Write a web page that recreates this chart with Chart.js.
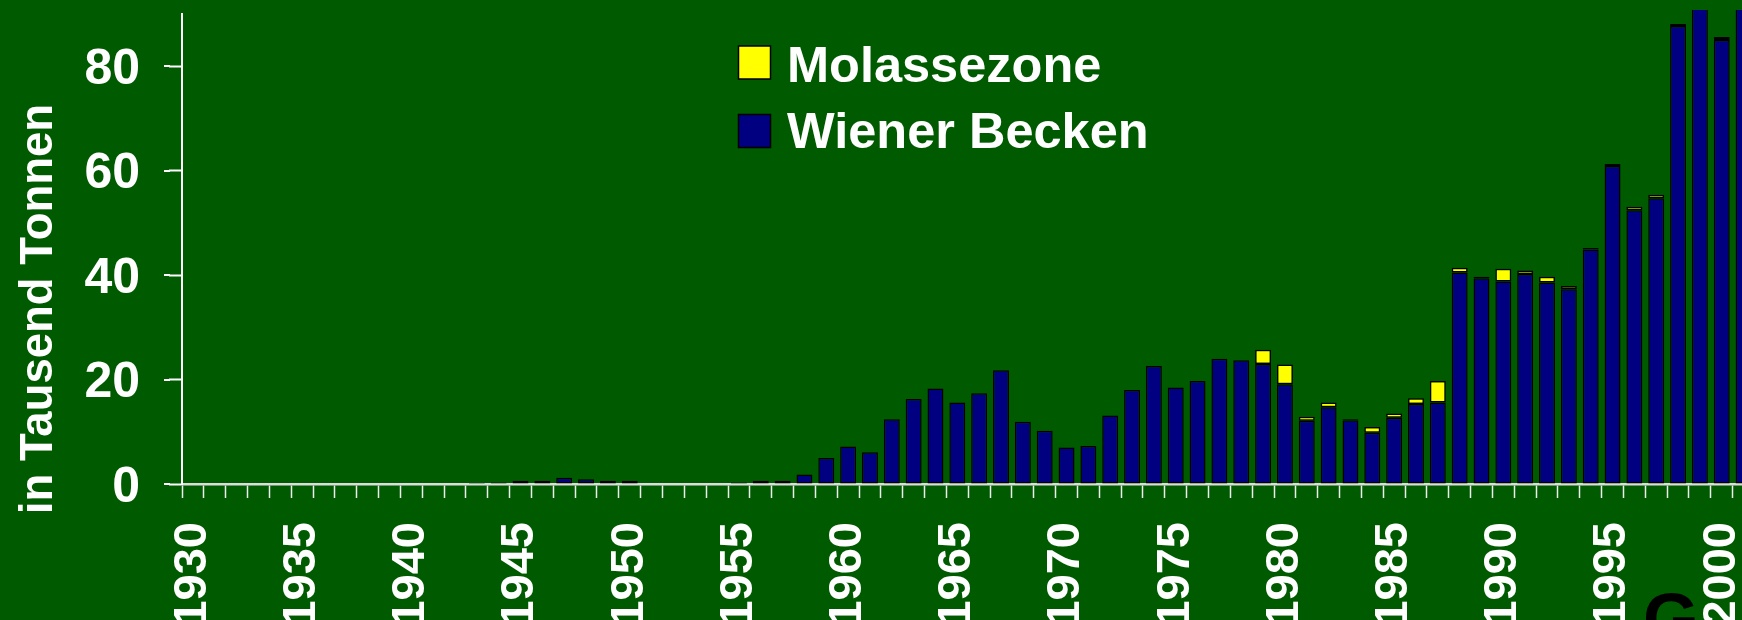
<!DOCTYPE html>
<html><head><meta charset="utf-8">
<script src="https://cdn.jsdelivr.net/npm/chart.js@4.4.0/dist/chart.umd.min.js"></script>
<style>
html,body{margin:0;padding:0;background:#005a00;overflow:hidden;width:1742px;height:620px;}
#wrap{position:absolute;left:0;top:0;width:1760px;height:650px;}
canvas{display:block;}
</style></head><body>
<div id="wrap"><canvas id="c" width="1760" height="650"></canvas></div>
<script>
const years = ['1930','1931','1932','1933','1934','1935','1936','1937','1938','1939',
  '1940','1941','1942','1943','1944','1945','1946','1947','1948','1949',
  '1950','1951','1952','1953','1954','1955','1956','1957','1958','1959',
  '1960','1961','1962','1963','1964','1965','1966','1967','1968','1969',
  '1970','1971','1972','1973','1974','1975','1976','1977','1978','1979',
  '1980','1981','1982','1983','1984','1985','1986','1987','1988','1989',
  '1990','1991','1992','1993','1994','1995','1996','1997','1998','1999',
  '2000','2001'];
const wienerBecken = [0,0,0,0,0,0,0,0,0,0,
  0,0,0,0.2,0.3,0.6,0.6,1.2,0.9,0.6,
  0.6,0,0,0,0,0.3,0.6,0.6,1.8,5.0,
  7.2,6.1,12.4,16.3,18.3,15.6,17.4,21.8,11.9,10.2,
  7.0,7.3,13.1,18.0,22.6,18.5,19.7,24.0,23.7,23.0,
  19.1,12.1,14.7,12.2,9.8,12.7,15.3,15.6,40.5,39.4,
  38.8,40.2,38.6,37.3,44.9,60.9,52.4,54.7,87.7,95.0,
  85.0,95.0];
const molassezone = [0,0,0,0,0,0,0,0,0,0,
  0,0,0,0,0,0,0,0,0,0,
  0,0,0,0,0,0,0,0,0,0,
  0,0,0,0,0,0,0,0,0,0,
  0,0,0,0,0,0,0,0,0,2.7,
  3.8,0.8,0.9,0.2,1.1,0.8,1.1,4.1,0.9,0.3,
  2.4,0.7,1.1,0.6,0.3,0.4,0.7,0.7,0.4,0.5,
  0.6,0.5];
const yMajorTicks = [0,20,40,60,80];
const yTitle = 'in Tausend Tonnen';

const FONT = "'Liberation Sans', Arial, sans-serif";

const extras = {
  id: 'extras',
  afterDraw(chart) {
    const ctx = chart.ctx;
    const ys = chart.scales.y;
    const left = chart.chartArea.left;
    ctx.save();
    // longer major ticks
    ctx.strokeStyle = '#ffffff';
    ctx.lineWidth = 2;
    yMajorTicks.forEach(v => {
      const py = Math.round(ys.getPixelForValue(v));
      ctx.beginPath();
      ctx.moveTo(left - 18, py);
      ctx.lineTo(left - 12, py);
      ctx.stroke();
    });
    // y axis title
    ctx.fillStyle = '#ffffff';
    ctx.font = 'bold 45.5px ' + FONT;
    ctx.translate(51.5, 309);
    ctx.rotate(-Math.PI / 2);
    ctx.textAlign = 'center';
    ctx.textBaseline = 'alphabetic';
    ctx.fillText(yTitle, 0, 0);
    ctx.restore();

    // legend (top dataset first)
    ctx.save();
    const ds = chart.data.datasets.slice().reverse();
    ds.forEach((d, i) => {
      const bx = 738.5, by = 46 + i * 68.5;
      ctx.fillStyle = d.backgroundColor;
      ctx.fillRect(bx, by, 32, 33);
      ctx.strokeStyle = '#000000';
      ctx.lineWidth = 1.5;
      ctx.strokeRect(bx, by, 32, 33);
      ctx.fillStyle = '#ffffff';
      ctx.font = 'bold 50.5px ' + FONT;
      ctx.textAlign = 'left';
      ctx.textBaseline = 'alphabetic';
      ctx.fillText(d.label, 787, 81.5 + i * 66.5);
    });
    // corner logo fragment
    ctx.fillStyle = '#000000';
    ctx.font = 'bold 72px ' + FONT;
    ctx.fillText('G', 1643, 644);
    ctx.restore();
  }
};

new Chart(document.getElementById('c'), {
  type: 'bar',
  data: {
    labels: years,
    datasets: [
      { label: 'Wiener Becken', data: wienerBecken, backgroundColor: '#000080',
        borderColor: '#000000', borderWidth: 1.5, borderSkipped: false,
        clip: { left: 10, top: 4, right: 10, bottom: 2 } },
      { label: 'Molassezone', data: molassezone, backgroundColor: '#ffff00',
        borderColor: '#000000', borderWidth: 1.5, borderSkipped: false,
        clip: { left: 10, top: 4, right: 10, bottom: 2 } }
    ]
  },
  options: {
    responsive: false,
    animation: false,
    devicePixelRatio: 1,
    layout: { padding: { top: 14, left: 0, right: 5.5, bottom: 0 } },
    datasets: { bar: { categoryPercentage: 1, barPercentage: 0.73 } },
    plugins: { legend: { display: false }, tooltip: { enabled: false }, title: { display: false } },
    scales: {
      x: {
        stacked: true,
        offset: true,
        grid: { display: true, offset: true, drawOnChartArea: false, drawTicks: true,
                tickLength: 14, tickWidth: 1.5, tickColor: '#ececec' },
        border: { display: true, color: '#dcdcdc', width: 2.5 },
        ticks: {
          autoSkip: false, maxRotation: 90, minRotation: 90, padding: 24,
          color: '#ffffff', font: { family: FONT, size: 47, weight: 'bold' },
          callback: function (v, i) { const y = years[i]; return (+y) % 5 === 0 ? y : ''; }
        },
        afterFit(s) { s.height = 166; s.paddingLeft = 0; s.paddingRight = 0; }
      },
      y: {
        stacked: true,
        min: 0, max: 90,
        grid: { display: true, drawOnChartArea: false, drawTicks: true,
                tickLength: 13, tickWidth: 2, tickColor: '#ffffff' },
        border: { display: true, color: '#ffffff', width: 2 },
        ticks: {
          stepSize: 10, padding: 29, labelOffset: 4, color: '#ffffff',
          font: { family: FONT, size: 50, weight: 'bold' },
          callback: (v) => (v % 20 === 0 ? String(v) : '')
        },
        afterFit(s) { s.width = 182; s.paddingTop = 0; s.paddingBottom = 0; }
      }
    }
  },
  plugins: [extras]
});
</script>
</body></html>
